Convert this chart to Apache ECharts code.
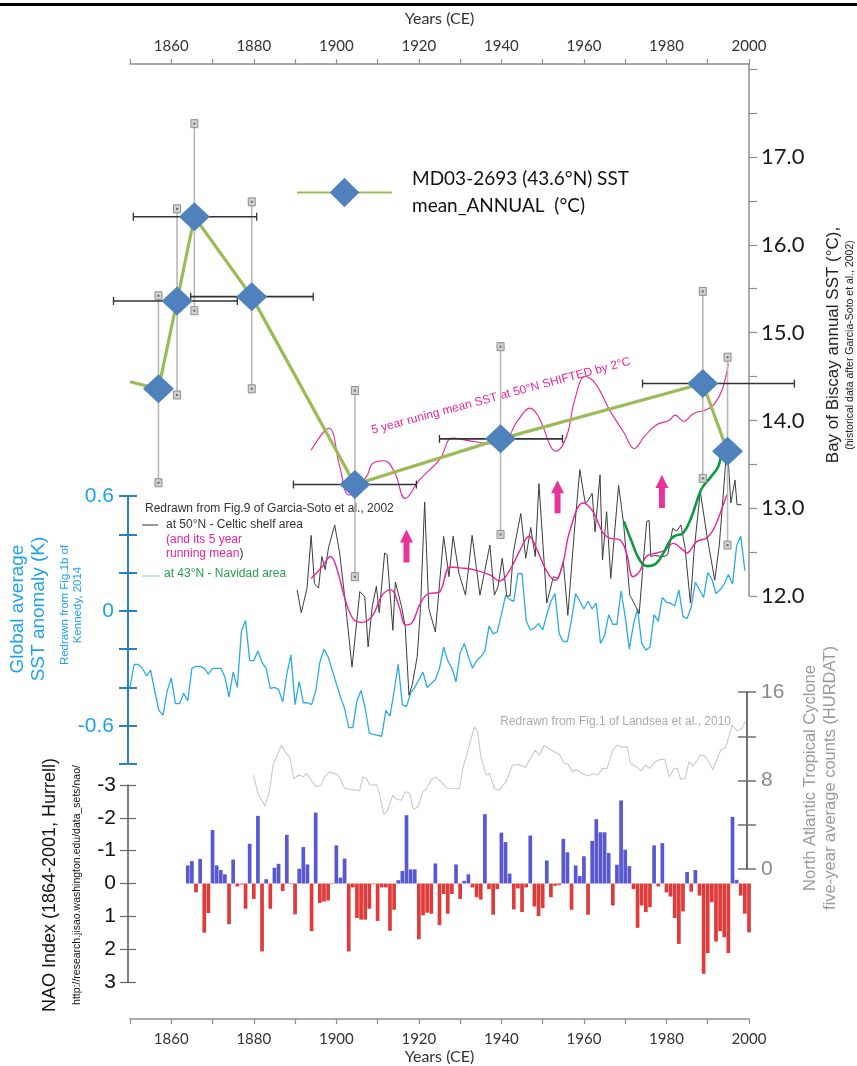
<!DOCTYPE html>
<html><head><meta charset="utf-8">
<script src="https://cdn.jsdelivr.net/npm/echarts@6/dist/echarts.min.js"></script>
<style>html,body{margin:0;padding:0;background:#fff}#c{width:857px;height:1066px}</style>
</head><body><div id="c"></div>
<script>
// ---------- DATA ----------
// MD03-2693 core SST (diamonds); the first point only anchors the line
const coreYears = [1850, 1856.9, 1861.4, 1865.6, 1879.5, 1904.5, 1939.8, 1988.8, 1994.8];
const coreSST   = [14.44, 14.36, 15.36, 16.32, 15.41, 13.27, 13.79, 14.42, 13.65];
// vertical error bars
const vErrYears = [1856.9, 1861.4, 1865.6, 1879.5, 1904.5, 1939.8, 1988.8, 1994.8];
const vErrLow   = [13.29, 14.29, 15.25, 14.36, 12.22, 12.70, 13.34, 12.58];
const vErrHigh  = [15.42, 16.41, 17.38, 16.49, 14.34, 14.84, 15.47, 14.72];
// horizontal (age) error bars
const hErrSST  = [15.36, 16.32, 15.41, 13.27, 13.79, 14.42];
const hErrFrom = [1846, 1850.8, 1864.7, 1889.6, 1925.0, 1974.2];
const hErrTo   = [1876, 1880.7, 1894.4, 1919.4, 1954.8, 2011];

// Celtic shelf 50N annual SST (black)
const celticYears = [1890.5,1891.5,1892.9,1893.9,1894.7,1895.7,1896.5,1897.3,1898.1,1899.6,1900.8,1902.2,1903.8,1905.7,1906.9,1907.7,1908.7,1909.7,1910.4,1911.7,1912.3,1913.7,1914.3,1915.8,1916.7,1917.6,1918.4,1919.6,1920.4,1921.4,1922.4,1924,1926,1927.3,1928.3,1929.7,1931.3,1932.9,1934.8,1937.2,1938.3,1939.2,1940.2,1941.3,1942.1,1942.9,1944.7,1945.9,1947.1,1948.2,1949.1,1951,1952.6,1953.8,1955,1956.1,1957.6,1959,1960.3,1960.8,1962,1962.7,1963.9,1964.5,1965.5,1966.5,1968.4,1969.6,1971.1,1971.6,1973.4,1974.2,1975.2,1975.8,1976.2,1977,1979.4,1980.3,1981.5,1982.5,1983.5,1984.5,1985.8,1986.7,1988.2,1989.8,1991.7,1992.8,1994,1994.7,1995.6,1996.6,1997.1,1998.2];
const celticSST = [12.07,11.81,12.09,12.69,12.14,12.09,12.45,12.30,12.55,12.81,12.49,11.92,11.19,12.05,11.99,11.42,11.88,12.11,11.81,12.49,12.47,11.61,12.16,11.88,11.65,10.87,10.99,11.31,11.86,13.07,11.86,11.59,12.68,12.22,12.68,12.26,12.01,12.69,12.01,12.58,12.01,12.11,12.43,12.0,12.0,12.5,12.94,12.43,12.78,12.45,13.28,11.92,12.22,12.2,12.39,11.78,12.69,13.44,13.06,13.07,13.17,12.73,13.38,12.41,12.96,12.2,13.26,12.83,12.01,11.97,11.8,12.28,12.85,12.86,12.45,12.46,12.45,12.47,12.77,12.74,12.81,12.55,11.92,12.52,13.19,12.69,12.18,12.58,13.30,13.76,13.06,13.32,13.04,13.04];

// 5-year running mean of Celtic shelf SST (pink, lower)
const meanYears = [1893.9,1896.5,1898.6,1900.2,1902.2,1904.2,1906.2,1908.7,1911.1,1913.2,1915.2,1916.8,1918.4,1920.4,1922.5,1924.8,1927.6,1930,1933.2,1937.2,1939.6,1942.1,1944.5,1946.7,1948.5,1951,1953,1954.8,1956.5,1959.8,1962.2,1964.6,1966.2,1968.7,1970.3,1971.9,1973.5,1975.1,1977.6,1979.6,1981.6,1984.1,1984.9,1987.3,1989.7,1991.3,1993,1994.6];
const meanSST = [12.20,12.33,12.45,12.30,11.95,11.73,11.70,11.77,12.01,12.07,11.88,11.67,11.70,11.92,12.03,12.04,12.33,12.32,12.30,12.24,12.17,12.30,12.52,12.68,12.54,12.28,12.18,12.35,12.73,13.06,12.96,12.72,12.66,12.64,12.49,12.22,12.28,12.45,12.49,12.52,12.60,12.52,12.49,12.62,12.66,12.75,12.94,13.15];

// same running mean shifted (pink, upper)
const shiftYears = [1893.9,1898.2,1900.8,1903.1,1907.3,1908.8,1911.7,1914.2,1916.7,1920.1,1925.1,1928.1,1932,1936,1939.8,1944,1946.9,1948.9,1953.3,1955.8,1957.8,1960.3,1962.8,1966.2,1969.7,1972.2,1974.7,1977.6,1980.6,1982.1,1984.1,1986.6,1989.5,1991.5,1993.5,1995];
const shiftSST = [13.66,13.91,13.48,13.15,13.36,13.51,13.54,13.40,13.11,13.32,13.56,13.80,13.77,13.74,13.72,14.0,14.14,14.05,13.65,13.82,14.24,14.50,14.42,14.12,13.86,13.68,13.82,13.95,14.0,14.06,13.99,14.08,14.12,14.18,14.35,14.65];

// Navidad area 43N (green)
const navYears = [1969.7,1971.4,1973.5,1975.4,1977.5,1979.4,1981.1,1982.3,1983.9,1985.9,1988.4,1990.8,1992.5,1994.1,1995.3,1996.6];
const navSST = [12.85,12.64,12.41,12.34,12.37,12.50,12.65,12.69,12.71,12.88,13.21,13.36,13.47,13.69,13.69,13.67];

// warming arrows
const arrowYears = [1917, 1953.6, 1978.9];
const arrowSST = [12.57, 13.13, 13.19];

// Global average SST anomaly (Kennedy 2014), annual from 1850
const globalStart = 1850;
const globalAnom = [
 -0.40,-0.28,-0.28,-0.30,-0.34,-0.31,-0.42,-0.52,-0.545,-0.42,
 -0.35,-0.485,-0.485,-0.43,-0.47,-0.30,-0.29,-0.29,-0.30,-0.33,
 -0.30,-0.30,-0.30,-0.345,-0.45,-0.32,-0.40,-0.105,-0.05,-0.26,
 -0.26,-0.21,-0.27,-0.30,-0.405,-0.40,-0.41,-0.475,-0.33,-0.23,
 -0.49,-0.37,-0.48,-0.48,-0.49,-0.42,-0.27,-0.20,-0.24,-0.31,
 -0.38,-0.45,-0.51,-0.61,-0.61,-0.47,-0.415,-0.51,-0.64,-0.645,
 -0.65,-0.655,-0.52,-0.55,-0.42,-0.28,-0.49,-0.50,-0.43,-0.40,
 -0.36,-0.32,-0.40,-0.38,-0.36,-0.30,-0.19,-0.26,-0.30,-0.37,
 -0.22,-0.17,-0.24,-0.30,-0.26,-0.24,-0.21,-0.08,-0.12,-0.11,
 -0.02,0.08,0.06,0.05,0.195,0.195,-0.05,-0.10,-0.09,-0.065,
 -0.10,-0.02,0.05,0.09,-0.12,-0.16,-0.16,-0.045,0.09,0.05,
 0.01,0.05,0.01,0.04,-0.17,-0.13,-0.02,-0.07,-0.07,0.105,
 -0.03,-0.20,-0.07,0.01,-0.17,-0.205,-0.19,-0.02,-0.055,0.07,
 0.045,0.04,0.025,0.11,-0.03,-0.04,0.02,0.15,0.11,0.07,
 0.20,0.165,0.09,0.11,0.14,0.19,0.14,0.34,0.39,0.21];

// North Atlantic tropical cyclones, five-year average counts (Landsea 2010)
const stormYears = [1880,1881.1,1882.8,1883.8,1884.8,1886.8,1888,1888.8,1889.8,1891.1,1892.1,1892.9,1894,1895.3,1896.5,1897.3,1898.5,1900.6,1902.2,1905.8,1906.6,1907.5,1908.3,1910,1910.7,1911.7,1912.5,1913.9,1914.8,1915.9,1917,1918,1918.9,1920,1921.2,1922,1923.2,1924.4,1925.6,1927,1930.1,1930.9,1932.5,1933.7,1934.5,1935.3,1936.6,1937.4,1938.6,1939.8,1941.4,1943,1944.7,1946.1,1948.5,1949.5,1950.7,1952.4,1954.4,1955.6,1956.5,1957.6,1958.5,1960,1961.2,1962.5,1963.7,1964.9,1966,1967.3,1968.5,1969.5,1970.9,1971.7,1973.4,1974.2,1975.4,1976.3,1977.7,1979,1980,1981.1,1982.3,1983,1983.9,1985,1985.9,1986.9,1988.7,1989.9,1991.7,1993.6,1994.8,1996.4,1997.6,1998.8,1999.6];
const stormCounts = [8.5,6.84,5.69,6.84,9.4,11.2,10.45,10.14,8.18,8.49,8.33,8.64,8.04,7.43,7.6,8.33,8.78,8.49,7.28,7.07,8.33,8.18,7.59,7.6,6.68,4.97,5.2,6.68,6.3,6.22,6.98,6.84,5.39,5.6,6.98,7.2,8.04,8.33,7.89,7.3,7.28,9.09,11.2,12.85,12.4,10.14,8.49,8.64,7.28,7.13,7.88,9.4,9.45,9.18,10.75,10.3,11.2,10.75,10.36,9.54,9.5,8.78,9.0,8.64,8.4,8.6,8.49,9.09,9.1,10.75,11.2,11.0,11.04,9.54,9.18,8.87,9.4,9.1,9.7,9.91,9.9,8.33,9.09,9.1,8.09,8.2,9.7,9.31,10.3,10.2,9.0,10.75,10.99,13.0,12.49,12.7,13.39];

// NAO index (Hurrell), annual from 1864
const naoStart = 1864;
const naoIndex = [
 -0.55,-0.68,0.27,-0.75,1.5,0.9,-1.63,-0.55,-0.41,-0.28,
 1.24,-0.73,0.09,0.03,0.77,-1.21,0.47,-2.06,2.07,-0.13,
 0.77,-0.48,-0.6,0.23,-1.48,0.02,0.94,-0.45,-1.11,-0.58,
 1.45,-2.16,0.59,0.55,0.52,0.02,-1.16,-0.18,-0.76,2.07,
 0.12,1.05,1.1,1.1,0.77,0.02,1.14,0.12,0.12,1.44,
 0.8,-0.1,-0.38,-2.08,-0.43,-0.43,1.7,0.97,0.89,0.92,
 -0.61,1.27,0.32,0.92,0.32,-0.58,0.47,-0.08,-0.28,0.12,
 0.42,0.49,-2.11,0.17,0.95,0.17,-1.55,-1.26,-0.3,0.79,
 0.15,0.87,0.12,-1.46,0.7,0.99,0.75,-0.7,0.42,0.07,
 0.05,-1.36,-0.95,0.8,-0.55,-0.23,-0.83,0.95,-1.3,-1.96,
 -1.56,-1.56,-0.93,0.67,-0.57,-2.53,-1.03,-0.53,0.17,1.35,
 0.67,0.87,0.72,-1.16,0.09,-1.23,0.27,0.4,1.05,1.84,
 0.85,-0.35,0.25,-0.41,0.37,2.75,2.12,0.57,1.77,1.45,
 1.64,2.12,-2.03,-0.11,0.37,0.92,1.49];

// tick label sets
const yearLabelStep = 20;
const sstLabels = [12, 13, 14, 15, 16, 17];
const anomLabels = [-0.6, 0, 0.6];
const stormLabels = [0, 8, 16];

// ---------- CHART ----------
const chart = echarts.init(document.getElementById('c'), null, {renderer:'canvas'});
const near = (v, arr) => arr.some(a => Math.abs(a - v) < 1e-6);
const pairs = (xs, ys) => xs.map((x, i) => [x, ys[i]]);
const numFont = 'Lato';
const txtFont = 'Liberation Sans';

function xAxisDef(grid, pos, show, offset) {
  return {
    gridIndex: grid, type: 'value', position: pos, min: 1850, max: 2000, interval: 10, show: show,
    offset: offset || 0,
    axisLine: {show: true, onZero: false, lineStyle: {color: '#8f8f8f', width: 1.5}},
    axisTick: {show: true, length: 5, lineStyle: {color: '#8f8f8f', width: 1.2}},
    axisLabel: {formatter: v => (v % yearLabelStep === 0 ? String(v) : ''), fontSize: 15, color: '#333',
      margin: pos === 'top' ? 10 : 13, fontFamily: numFont},
    splitLine: {show: false},
    name: 'Years (CE)', nameLocation: 'middle', nameGap: pos === 'top' ? 37 : 30,
    nameTextStyle: {fontSize: 16, color: '#333', fontFamily: numFont}
  };
}

const vErrData = vErrYears.map((y, i) => [y, vErrLow[i], vErrHigh[i]]);
const hErrData = hErrSST.map((s, i) => [hErrFrom[i], hErrTo[i], s]);
const coreData = coreYears.map((y, i) => (i === 0 ? {value: [y, coreSST[i]], symbol: 'none'} : [y, coreSST[i]]));

const option = {
  animation: false,
  backgroundColor: '#ffffff',
  grid: [
    {left: 130, width: 619, top: 64, height: 532},
    {left: 130, width: 619, top: 496, height: 268},
    {left: 130, width: 617, top: 692, height: 177},
    {left: 130, width: 619, top: 785, height: 197}
  ],
  legend: {
    left: 291, top: 147, itemWidth: 95, itemHeight: 37, selectedMode: false,
    data: ['MD03-2693 (43.6°N) SST\nmean_ANNUAL  (°C)'],
    textStyle: {fontSize: 19, fontFamily: numFont, color: '#111', lineHeight: 27, padding: [27, 0, 0, 15]}
  },
  xAxis: [
    xAxisDef(0, 'top', true),
    {gridIndex: 1, type: 'value', min: 1850, max: 2000, show: false},
    {gridIndex: 2, type: 'value', min: 1850, max: 2000, show: false},
    xAxisDef(3, 'bottom', true, 37)
  ],
  yAxis: [
    { // 0 SST right axis
      gridIndex: 0, type: 'value', position: 'right', min: 12, max: 18.06, interval: 0.5,
      axisLine: {show: true, lineStyle: {color: '#8f8f8f', width: 1.5}},
      axisTick: {show: true, length: 8, lineStyle: {color: '#8f8f8f', width: 1.2}},
      axisLabel: {formatter: v => (near(v, sstLabels) ? v.toFixed(1) : ''), fontSize: 22, color: '#1a1a1a', margin: 12, fontFamily: numFont, showMaxLabel: false},
      splitLine: {show: false}
    },
    { // 1 global anomaly left
      gridIndex: 1, type: 'value', position: 'left', offset: 2, min: -0.8, max: 0.6, interval: 0.2,
      axisLine: {show: true, lineStyle: {color: '#2a82bd', width: 2}},
      axisTick: {show: true, length: 9, lineStyle: {color: '#2a82bd', width: 2}},
      axisLabel: {formatter: v => (near(v, anomLabels) ? (Math.abs(v) < 1e-6 ? '0' : v.toFixed(1)) : ''), fontSize: 21, color: '#1ea2e8', margin: 14, fontFamily: txtFont},
      splitLine: {show: false}
    },
    { // 2 global anomaly inner ticks
      gridIndex: 1, type: 'value', position: 'left', offset: 2, min: -0.8, max: 0.6, interval: 0.2,
      axisLine: {show: false}, axisLabel: {show: false}, splitLine: {show: false},
      axisTick: {show: true, inside: true, length: 9, lineStyle: {color: '#2a82bd', width: 2}}
    },
    { // 3 storms right
      gridIndex: 2, type: 'value', position: 'right', min: 0, max: 16, interval: 4,
      axisLine: {show: true, lineStyle: {color: '#707070', width: 2}},
      axisTick: {show: true, length: 9, lineStyle: {color: '#707070', width: 1.5}},
      axisLabel: {formatter: v => (near(v, stormLabels) ? String(v) : ''), fontSize: 21, color: '#8a8a8a', margin: 14, fontFamily: txtFont},
      splitLine: {show: false}
    },
    { // 4 storms inner ticks
      gridIndex: 2, type: 'value', position: 'right', min: 0, max: 16, interval: 4,
      axisLine: {show: false}, axisLabel: {show: false}, splitLine: {show: false},
      axisTick: {show: true, inside: true, length: 9, lineStyle: {color: '#707070', width: 1.5}}
    },
    { // 5 NAO left (inverted)
      gridIndex: 3, type: 'value', position: 'left', offset: 2, min: -3, max: 3, interval: 1, inverse: true,
      axisLine: {show: true, lineStyle: {color: '#555', width: 1.5}},
      axisTick: {show: true, length: 8, lineStyle: {color: '#666', width: 1.2}},
      axisLabel: {formatter: v => String(v), fontSize: 21, color: '#111', margin: 12, fontFamily: txtFont},
      splitLine: {show: false}
    },
    { // 6 NAO inner ticks
      gridIndex: 3, type: 'value', position: 'left', offset: 2, min: -3, max: 3, interval: 1, inverse: true,
      axisLine: {show: false}, axisLabel: {show: false}, splitLine: {show: false},
      axisTick: {show: true, inside: true, length: 8, lineStyle: {color: '#666', width: 1.2}}
    }
  ],
  series: [
    {
      type: 'bar', xAxisIndex: 3, yAxisIndex: 5, barWidth: 3.7, z: 2,
      data: naoIndex.map((v, i) => [naoStart + i, v]),
      itemStyle: {color: p => (p.value[1] < 0 ? '#5858d4' : '#e03b3b')}
    },
    {
      type: 'line', xAxisIndex: 2, yAxisIndex: 3, symbol: 'none', z: 2,
      data: pairs(stormYears, stormCounts),
      lineStyle: {color: '#c9c9c9', width: 1.1}
    },
    {
      type: 'line', xAxisIndex: 1, yAxisIndex: 1, symbol: 'none', z: 3,
      data: globalAnom.map((v, i) => [globalStart + i, v]),
      lineStyle: {color: '#2caae3', width: 1.3}
    },
    {
      type: 'line', xAxisIndex: 0, yAxisIndex: 0, symbol: 'none', clip: false, z: 3,
      data: pairs(celticYears, celticSST),
      lineStyle: {color: '#3c3c3c', width: 1}
    },
    {
      type: 'line', xAxisIndex: 0, yAxisIndex: 0, symbol: 'none', clip: false, smooth: 0.4, z: 4,
      data: pairs(meanYears, meanSST),
      lineStyle: {color: '#e8239a', width: 1.4}
    },
    {
      type: 'line', xAxisIndex: 0, yAxisIndex: 0, symbol: 'none', clip: false, smooth: 0.4, z: 4,
      data: pairs(shiftYears, shiftSST),
      lineStyle: {color: '#e8239a', width: 1.1}
    },
    {
      type: 'line', xAxisIndex: 0, yAxisIndex: 0, symbol: 'none', clip: false, smooth: 0.4, z: 4,
      data: pairs(navYears, navSST),
      lineStyle: {color: '#0e9a40', width: 2.6}
    },
    {
      type: 'scatter', xAxisIndex: 0, yAxisIndex: 0, z: 4,
      symbol: 'path://M6.5,0 L13,13 L9.5,13 L9.5,33 L3.5,33 L3.5,13 L0,13 Z',
      symbolSize: [13, 33], data: pairs(arrowYears, arrowSST),
      itemStyle: {color: '#e5007e'}
    },
    {
      type: 'custom', xAxisIndex: 0, yAxisIndex: 0, z: 5, clip: false,
      data: vErrData,
      renderItem: (params, api) => {
        const pLo = api.coord([api.value(0), api.value(1)]);
        const pHi = api.coord([api.value(0), api.value(2)]);
        const cap = p => ({type: 'group', children: [
          {type: 'rect', shape: {x: p[0] - 3.5, y: p[1] - 4, width: 7, height: 8}, style: {fill: '#d2d2d2', stroke: '#8d8d8d', lineWidth: 1}},
          {type: 'rect', shape: {x: p[0] - 1, y: p[1] - 1, width: 2, height: 2}, style: {fill: '#666'}}
        ]});
        return {type: 'group', children: [
          {type: 'line', shape: {x1: pLo[0], y1: pLo[1], x2: pHi[0], y2: pHi[1]}, style: {stroke: '#b8b8b8', lineWidth: 1.6}},
          cap(pLo), cap(pHi)
        ]};
      }
    },
    {
      type: 'custom', xAxisIndex: 0, yAxisIndex: 0, z: 5, clip: false,
      data: hErrData,
      renderItem: (params, api) => {
        const a = api.coord([api.value(0), api.value(2)]);
        const b = api.coord([api.value(1), api.value(2)]);
        return {type: 'group', children: [
          {type: 'line', shape: {x1: a[0], y1: a[1], x2: b[0], y2: b[1]}, style: {stroke: '#333', lineWidth: 1.6}},
          {type: 'line', shape: {x1: a[0], y1: a[1] - 4, x2: a[0], y2: a[1] + 4}, style: {stroke: '#333', lineWidth: 1.3}},
          {type: 'line', shape: {x1: b[0], y1: b[1] - 4, x2: b[0], y2: b[1] + 4}, style: {stroke: '#333', lineWidth: 1.3}}
        ]};
      }
    },
    {
      name: 'MD03-2693 (43.6°N) SST\nmean_ANNUAL  (°C)',
      type: 'line', xAxisIndex: 0, yAxisIndex: 0, z: 6, clip: false,
      data: coreData,
      symbol: 'diamond', symbolSize: [31, 29], showSymbol: true,
      itemStyle: {color: '#4f81bd'},
      lineStyle: {color: '#9bbb59', width: 3.2}
    }
  ],
  graphic: [
    {type: 'rect', shape: {x: 0, y: 3, width: 857, height: 3}, style: {fill: '#000'}, silent: true},
    {type: 'text', x: 840, y: 345, rotation: Math.PI / 2, silent: true, style: {
      text: '{a|Bay of Biscay annual SST (°C),}\n{b|(historical data after Garcia-Soto et al., 2002)}',
      align: 'center', verticalAlign: 'middle',
      rich: {a: {fontSize: 17, lineHeight: 21, fill: '#222', fontFamily: txtFont}, b: {fontSize: 10.5, lineHeight: 13, fill: '#222', fontFamily: txtFont}}}},
    {type: 'text', x: 28, y: 609, rotation: Math.PI / 2, silent: true, style: {
      text: 'Global average\nSST anomaly (K)', align: 'center', verticalAlign: 'middle',
      fontSize: 19, lineHeight: 21, fill: '#1ea2e8', fontFamily: txtFont}},
    {type: 'text', x: 71.5, y: 605, rotation: Math.PI / 2, silent: true, style: {
      text: 'Redrawn from Fig.1b of\nKennedy, 2014', align: 'center', verticalAlign: 'middle',
      fontSize: 11.5, lineHeight: 13, fill: '#1ea2e8', fontFamily: txtFont}},
    {type: 'text', x: 57, y: 885, rotation: Math.PI / 2, silent: true, style: {
      text: '{a|NAO Index (1864-2001, Hurrell)}\n{b|http://research.jisao.washington.edu/data_sets/nao/}',
      align: 'center', verticalAlign: 'middle',
      rich: {a: {fontSize: 18, lineHeight: 40, fill: '#111', fontFamily: txtFont}, b: {fontSize: 10.5, lineHeight: 14, fill: '#111', fontFamily: txtFont}}}},
    {type: 'text', x: 820, y: 778, rotation: Math.PI / 2, silent: true, style: {
      text: 'North Atlantic Tropical Cyclone\nfive-year average counts (HURDAT)', align: 'center', verticalAlign: 'middle',
      fontSize: 16.5, lineHeight: 20, fill: '#9a9a9a', fontFamily: txtFont}},
    {type: 'text', x: 145, y: 509, silent: true, style: {
      text: 'Redrawn from Fig.9 of Garcia-Soto et al., 2002', align: 'left', verticalAlign: 'middle',
      fontSize: 12, fill: '#333', fontFamily: txtFont}},
    {type: 'line', shape: {x1: 142, y1: 525, x2: 158, y2: 525}, style: {stroke: '#333', lineWidth: 1}, silent: true},
    {type: 'text', x: 166, y: 525, silent: true, style: {
      text: 'at 50°N - Celtic shelf area', align: 'left', verticalAlign: 'middle',
      fontSize: 12, fill: '#333', fontFamily: txtFont}},
    {type: 'text', x: 166, y: 547, silent: true, style: {
      text: '{p|(and its 5 year}\n{p|running mean}{k|)}', align: 'left', verticalAlign: 'middle',
      rich: {p: {fontSize: 12, lineHeight: 14, fill: '#e8239a', fontFamily: txtFont}, k: {fontSize: 12, lineHeight: 14, fill: '#333', fontFamily: txtFont}}}},
    {type: 'line', shape: {x1: 142, y1: 576, x2: 160, y2: 576}, style: {stroke: '#c6ead2', lineWidth: 2}, silent: true},
    {type: 'text', x: 164, y: 574, silent: true, style: {
      text: 'at 43°N - Navidad area', align: 'left', verticalAlign: 'middle',
      fontSize: 12, fill: '#27a04b', fontFamily: txtFont}},
    {type: 'text', x: 731, y: 722, silent: true, style: {
      text: 'Redrawn from Fig.1 of Landsea et al., 2010', align: 'right', verticalAlign: 'middle',
      fontSize: 12, fill: '#ababab', fontFamily: txtFont}},
    {type: 'text', x: 501, y: 396, rotation: 0.262, silent: true, style: {
      text: '5 year runing mean SST at 50°N SHIFTED by 2°C', align: 'center', verticalAlign: 'middle',
      fontSize: 12, fill: '#e8239a', fontFamily: txtFont}}
  ]
};
chart.setOption(option);
</script>
</body></html>
